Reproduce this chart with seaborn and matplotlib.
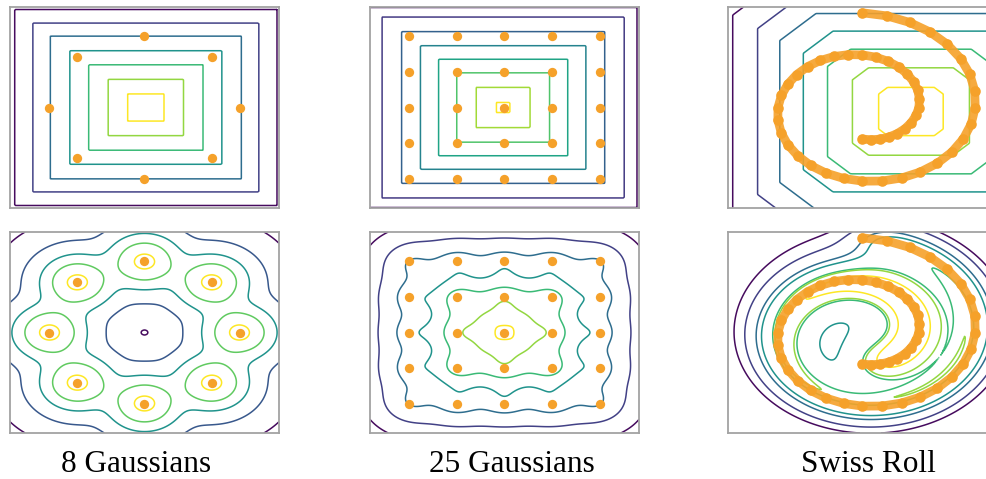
import numpy as np
import seaborn as sns
import matplotlib.pyplot as plt

sns.set_theme(style="white")
plt.rcParams['font.family'] = ['Liberation Serif', 'DejaVu Serif']

# 데이터: 8 Gaussians 중심
g8_x = [1.414, 1.0, 0.0, -1.0, -1.414, -1.0, 0.0, 1.0]
g8_y = [0.0, 1.0, 1.414, 1.0, 0.0, -1.0, -1.414, -1.0]

# 25 Gaussians 격자 좌표
g25_ticks = [-1.414, -0.707, 0.0, 0.707, 1.414]

# Swiss Roll 중심선
swiss_x = [0.0, 0.128, 0.261, 0.393, 0.518, 0.631, 0.725, 0.796, 0.838, 0.847,
           0.822, 0.762, 0.666, 0.538, 0.381, 0.199, 0.0, -0.209, -0.421, -0.626,
           -0.815, -0.98, -1.112, -1.206, -1.257, -1.258, -1.209, -1.11, -0.962, -0.771,
           -0.541, -0.281, 0.0, 0.291, 0.581, 0.858, 1.111, 1.328, 1.5, 1.618,
           1.676, 1.669, 1.596, 1.459, 1.259, 1.004, 0.701, 0.363, 0.0]
swiss_y = [-0.628, -0.642, -0.629, -0.588, -0.518, -0.422, -0.3, -0.158, 0.0, 0.169,
           0.341, 0.509, 0.666, 0.806, 0.919, 1.001, 1.047, 1.052, 1.016, 0.936,
           0.815, 0.654, 0.461, 0.24, 0.0, -0.25, -0.501, -0.742, -0.962, -1.154,
           -1.306, -1.412, -1.466, -1.463, -1.403, -1.284, -1.111, -0.887, -0.621, -0.322,
           0.0, 0.332, 0.661, 0.975, 1.259, 1.502, 1.693, 1.823, 1.885]

# 윗줄: 사각형 등고선의 반폭
top_8_levels = [0.27, 0.56, 0.85, 1.13, 1.42, 1.68, 1.95]
top_25_levels = [0.1, 0.4, 0.69, 0.96, 1.23, 1.51, 1.8, 1.99]
top_swiss_levels = [0.48, 0.87, 1.24, 1.6, 1.95, 2.28, 2.65]

# 아랫줄: 각 등고선이 지나는 점
bot_8_ax = [0.05, 0.57, 0.85, 0.39, 0.15]
bot_8_ay = [0.0, 0.0, 0.0, 1.414, 1.414]
bot_25_ax = [-1.8, 0.0, 0.0, 0.0, 0.0, 0.0, 0.0]
bot_25_ay = [1.95, 1.88, 1.6, 1.27, 0.9, 0.62, 0.14]
bot_swiss_ax = [-1.91, -1.75, -1.58, -0.25, 0.0, 1.26, 1.0]
bot_swiss_ay = [0.0, 0.0, 0.0, -0.09, 0.65, 0.21, 0.0]

titles = ['8 Gaussians', '25 Gaussians', 'Swiss Roll']
orange = '#f5a12a'

gx, gy = np.meshgrid(g25_ticks, g25_ticks)
g25_x = gx.ravel()
g25_y = gy.ravel()


def box_dist(X, Y, cx=0.0, cy=0.0):
    return np.maximum(np.abs(X - cx), np.abs(Y - cy))


def oct_dist(X, Y, cx, cy, c=0.58):
    dx = np.abs(X - cx)
    dy = np.abs(Y - cy)
    return np.maximum(np.maximum(dx, dy), c * (dx + dy))


def lse_field(X, Y, px, py, s):
    acc = np.zeros_like(np.asarray(X, dtype=float))
    for x0, y0 in zip(px, py):
        acc += np.exp(-((X - x0) ** 2 + (Y - y0) ** 2) / (2 * s * s))
    return 2 * s * s * np.log(acc + 1e-300)


def bumps_field(X, Y, px, py, a=0.36, s=0.23, p=4):
    f = -(np.abs(X) ** p + np.abs(Y) ** p) ** (1.0 / p)
    for x0, y0 in zip(px, py):
        f = f + a * np.exp(-((X - x0) ** 2 + (Y - y0) ** 2) / (2 * s * s))
    return f


def curve_field(X, Y, px, py, sig=0.3, w=1.6, k=0.4, cx=0.1, cy=0.1):
    X = np.asarray(X, dtype=float)
    Y = np.asarray(Y, dtype=float)
    acc = np.zeros_like(X)
    for i in range(len(px) - 1):
        x0, y0, x1, y1 = px[i], py[i], px[i + 1], py[i + 1]
        L = np.hypot(x1 - x0, y1 - y0)
        n = max(2, int(L / 0.02))
        for t in (np.arange(n) + 0.5) / n:
            qx = x0 + t * (x1 - x0)
            qy = y0 + t * (y1 - y0)
            acc += (L / n) * np.exp(-((X - qx) ** 2 + (Y - qy) ** 2) / (2 * sig * sig))
    ridge = acc / (np.sqrt(2 * np.pi) * sig)
    return w * ridge - k * ((X - cx) ** 2 + (Y - cy) ** 2)


xs = np.linspace(-2, 2, 241)
X, Y = np.meshgrid(xs, xs)

fig = plt.figure(figsize=(9.87, 4.79), dpi=100)
lefts = [10 / 987, 370 / 987, 728 / 987]
bottoms = [1 - 208 / 479, 1 - 433 / 479]
w, h = 269 / 987, 201 / 479
axes = [[fig.add_axes([l, b, w, h]) for l in lefts] for b in bottoms]


def draw_contours(ax, Z, levels):
    levels = np.sort(np.asarray(levels))
    cols = plt.cm.viridis(np.linspace(0.03, 1.0, len(levels)))
    ax.contour(X, Y, Z, levels=levels, colors=cols, linewidths=1.1)


# 윗줄
draw_contours(axes[0][0], -box_dist(X, Y, 0.02, 0.0), -np.array(top_8_levels))
draw_contours(axes[0][1], -box_dist(X, Y, -0.02, 0.0), -np.array(top_25_levels))
draw_contours(axes[0][2], -oct_dist(X, Y, 0.72, -0.08), -np.array(top_swiss_levels))

# 아랫줄
Z8 = lse_field(X, Y, g8_x, g8_y, 0.3)
lv8 = lse_field(np.array(bot_8_ax), np.array(bot_8_ay), g8_x, g8_y, 0.3)
draw_contours(axes[1][0], Z8, lv8)

Z25 = bumps_field(X, Y, g25_x, g25_y)
lv25 = bumps_field(np.array(bot_25_ax), np.array(bot_25_ay), g25_x, g25_y)
draw_contours(axes[1][1], Z25, lv25)

Zs = curve_field(X, Y, swiss_x, swiss_y)
lvs = curve_field(np.array(bot_swiss_ax), np.array(bot_swiss_ay), swiss_x, swiss_y)
draw_contours(axes[1][2], Zs, lvs)

# 데이터 점
for row in range(2):
    sns.scatterplot(x=g8_x, y=g8_y, color=orange, s=45, linewidth=0, ax=axes[row][0], zorder=3)
    sns.scatterplot(x=g25_x, y=g25_y, color=orange, s=45, linewidth=0, ax=axes[row][1], zorder=3)
    sns.lineplot(x=swiss_x, y=swiss_y, sort=False, estimator=None, color=orange,
                 lw=6.3, alpha=0.9, ax=axes[row][2], zorder=3)
    sns.scatterplot(x=swiss_x, y=swiss_y, color=orange, s=58, linewidth=0,
                    ax=axes[row][2], zorder=3)

for row in axes:
    for ax in row:
        ax.set_xlim(-2, 2)
        ax.set_ylim(-2, 2)
        ax.set_xticks([])
        ax.set_yticks([])
        for sp in ax.spines.values():
            sp.set_color('#a3a3a3')
            sp.set_linewidth(1.3)

for x, t in zip([136, 512, 868], titles):
    fig.text(x / 987, 0.0, t, ha='center', va='bottom', fontsize=22.5, color='black')

plt.savefig('out.png', dpi=100)
